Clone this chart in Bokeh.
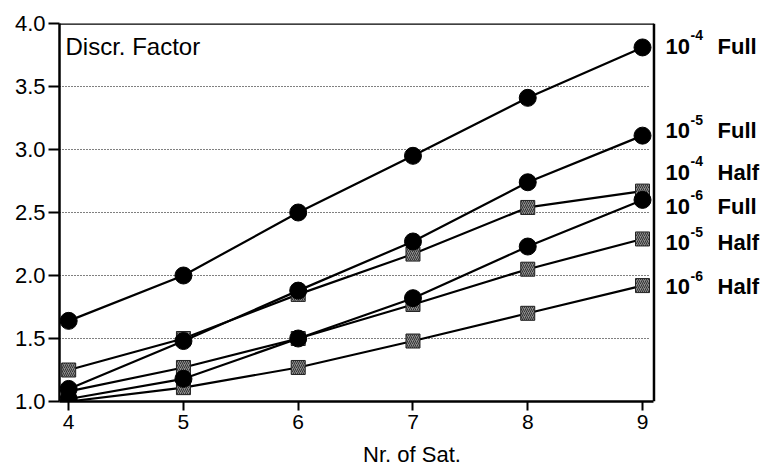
from bokeh.plotting import figure
from bokeh.models import Label, FixedTicker, NumeralTickFormatter, Range1d
from bokeh.core.properties import value
from bokeh.embed import file_html
from bokeh.resources import INLINE

sats = [4, 5, 6, 7, 8, 9]

full_1e4 = [1.64, 2.00, 2.50, 2.95, 3.41, 3.81]
full_1e5 = [1.10, 1.48, 1.88, 2.27, 2.74, 3.11]
full_1e6 = [1.02, 1.18, 1.50, 1.82, 2.23, 2.60]
half_1e4 = [1.25, 1.50, 1.85, 2.17, 2.54, 2.67]
half_1e5 = [1.08, 1.27, 1.50, 1.77, 2.05, 2.29]
half_1e6 = [1.00, 1.11, 1.27, 1.48, 1.70, 1.92]

label_exp = ["-4", "-5", "-4", "-6", "-5", "-6"]
label_kind = ["Full", "Full", "Half", "Full", "Half", "Half"]
label_y = [3.82, 3.15, 2.82, 2.55, 2.26, 1.91]

y_ticks = [1.0, 1.5, 2.0, 2.5, 3.0, 3.5, 4.0]
grid_ticks = [1.5, 2.0, 2.5, 3.0, 3.5]

FONT = "Liberation Sans"
X_LEFT, X_RIGHT = 3.92, 9.1   # plotted box limits (data units)

p = figure(width=764, height=469, output_backend="svg", toolbar_location=None,
           x_range=Range1d(X_LEFT, 10.063), y_range=Range1d(1.0, 4.0),
           min_border_left=59, min_border_right=0, min_border_top=23,
           min_border_bottom=67)
p.background_fill_color = "white"
p.border_fill_color = "white"
p.outline_line_color = None
p.xgrid.visible = False
p.ygrid.visible = False

p.xaxis.ticker = FixedTicker(ticks=sats)
p.xaxis.bounds = (X_LEFT, X_RIGHT)
p.yaxis.ticker = FixedTicker(ticks=y_ticks)
p.yaxis.formatter = NumeralTickFormatter(format="0.0")
for ax in (p.xaxis[0], p.yaxis[0]):
    ax.axis_line_width = 2.5
    ax.axis_line_color = "black"
    ax.major_tick_line_width = 2
    ax.major_tick_line_color = "black"
    ax.minor_tick_line_color = None
    ax.major_tick_in = 0
    ax.major_label_text_font = FONT
    ax.major_label_text_color = "black"
p.yaxis.major_label_text_font_size = "22px"
p.xaxis.major_label_text_font_size = "21px"
p.yaxis.major_tick_out = 11
p.yaxis.major_label_standoff = 3
p.xaxis.major_tick_out = 9
p.xaxis.major_label_standoff = 4
p.xaxis.axis_label = "Nr. of Sat."
p.xaxis.axis_label_text_font = FONT
p.xaxis.axis_label_text_color = "black"
p.xaxis.axis_label_text_font_size = "22px"
p.xaxis.axis_label_text_font_style = "normal"
p.xaxis.axis_label_standoff = 10

# dotted horizontal grid lines and box borders (top, right)
p.segment(x0=[X_LEFT] * len(grid_ticks), y0=grid_ticks,
          x1=[X_RIGHT - 0.04] * len(grid_ticks), y1=grid_ticks,
          line_color="black", line_width=1.2, line_dash="1 2")
p.segment(x0=[X_LEFT, X_RIGHT], y0=[4.0, 1.0], x1=[X_RIGHT, X_RIGHT], y1=[4.0, 4.0],
          line_color="black", line_width=2.5)

for ys in (full_1e4, full_1e5, full_1e6, half_1e4, half_1e5, half_1e6):
    p.line(sats, ys, line_color="black", line_width=2.2)

for ys in (half_1e4, half_1e5, half_1e6):
    p.scatter(sats, ys, marker="square", size=14, fill_color="#8c8c8c",
              line_color="#222222", line_width=1, hatch_pattern="/",
              hatch_color="#333333", hatch_scale=4, hatch_weight=1)
for ys in (full_1e4, full_1e5, full_1e6):
    p.scatter(sats, ys, marker="circle", size=17, fill_color="black",
              line_color="black")

p.add_layout(Label(x=X_LEFT, y=4.0, x_offset=6, y_offset=-9, text="Discr. Factor",
                   text_font=FONT, text_font_size="24px", text_baseline="top",
                   text_color="black"))

n = len(label_y)
x9 = [sats[-1]] * n
p.text(x=x9, y=label_y, text=["10"] * n, x_offset=23,
       text_font=value(FONT), text_font_size="22px", text_font_style="bold",
       text_baseline="middle", text_color="black")
p.text(x=x9, y=label_y, text=label_exp, x_offset=48, y_offset=-11,
       text_font=value(FONT), text_font_size="14px", text_font_style="bold",
       text_baseline="middle", text_color="black")
p.text(x=x9, y=label_y, text=label_kind, x_offset=75,
       text_font=value(FONT), text_font_size="22px", text_font_style="bold",
       text_baseline="middle", text_color="black")

open("out.html", "w").write(file_html(p, INLINE))
